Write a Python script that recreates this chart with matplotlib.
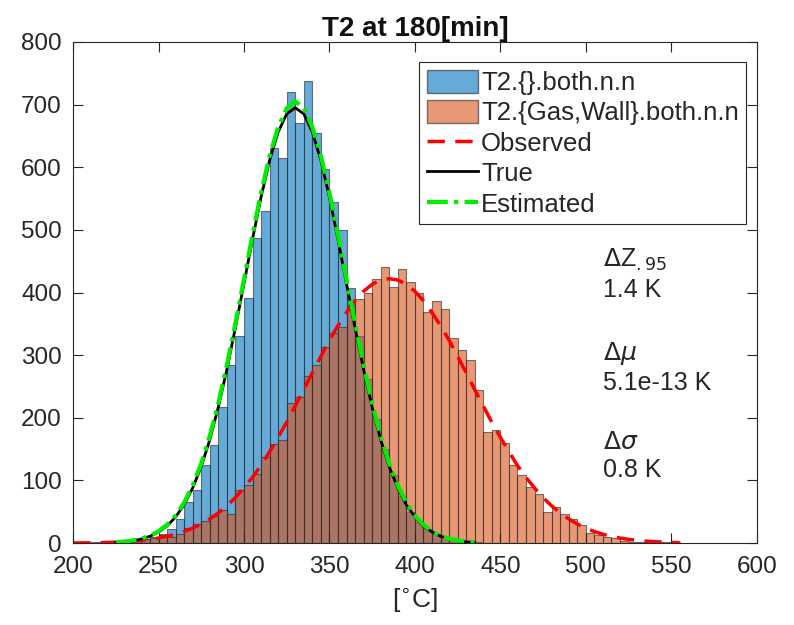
import matplotlib
matplotlib.use("Agg")
import matplotlib.pyplot as plt
import numpy as np
from matplotlib.patches import Patch
from matplotlib.lines import Line2D

plt.rcParams['font.family'] = ['Liberation Sans', 'DejaVu Sans']
plt.rcParams['mathtext.fontset'] = 'dejavusans'

# histogram counts, bin width 5
bin_w = 5
blue_start = 225
blue_counts = [1, 2, 4, 6, 10, 15, 22, 39, 66, 85, 125, 157, 218, 284, 330,
               391, 487, 530, 631, 614, 720, 670, 737, 655, 597, 545, 500, 407,
               330, 262, 198, 150, 108, 76, 50, 34, 22, 14, 8, 5, 3, 1, 1]
orange_start = 210
orange_counts = [1, 2, 1, 2, 3, 4, 6, 8, 13, 10, 14, 24, 31, 36, 44, 53, 47, 84,
                 92, 111, 138, 159, 164, 223, 234, 266, 284, 313, 335, 345, 380,
                 389, 399, 421, 441, 409, 437, 416, 399, 369, 387, 373, 327, 308,
                 292, 244, 178, 181, 160, 124, 109, 90, 78, 50, 58, 47, 39, 29,
                 16, 13, 10, 8, 4, 2, 1, 1, 1, 1, 1]

# fitted curves
true_x = list(range(225, 440, 5))
true_y = [1.2, 2.2, 3.9, 6.6, 10.9, 17.6, 27.4, 41.6, 61.4, 87.9, 122, 165, 217,
          277, 344, 414, 485, 552, 611, 656, 685, 695, 685, 656, 611, 552, 485,
          414, 344, 277, 217, 165, 122, 88, 61, 42, 27, 18, 11, 7, 4, 2, 1]
est_y = [1.5, 2.5, 4.3, 7.2, 11.8, 18.9, 29.3, 44, 64.6, 92, 127, 171, 223, 284,
         351, 421, 492, 559, 618, 664, 694, 705, 695, 664, 618, 559, 492, 421,
         351, 284, 223, 171, 127, 92, 64.6, 44, 29.3, 18.9, 11.8, 7.2, 4.3, 2.5, 1.5]
obs_x = list(range(200, 560, 5))
obs_y = [0.25, 0.37, 0.55, 0.8, 1.15, 1.6, 2.3, 3.2, 4.4, 6.0, 8.1, 10.8, 14.2,
         18.5, 23.9, 30.6, 38.6, 48.2, 59.5, 72.7, 88, 105, 124, 146, 169, 193,
         219, 245, 272, 298, 324, 347, 368, 387, 402, 413, 420, 422, 420, 413,
         402, 387, 368, 347, 324, 298, 272, 245, 219, 193, 169, 146, 124, 105,
         88, 72.7, 59.5, 48.2, 38.6, 30.6, 23.9, 18.5, 14.2, 10.8, 8.1, 6.0, 4.4,
         3.2, 2.3, 1.6, 1.15, 0.8]

labels = ['T2.{}.both.n.n', 'T2.{Gas,Wall}.both.n.n', 'Observed', 'True', 'Estimated']
notes = [(r'$\Delta$Z$_{\mathrm{.95}}$', 452), ('1.4 K', 404),
         (r'$\Delta\mu$', 303), ('5.1e-13 K', 256),
         (r'$\Delta\sigma$', 161), ('0.8 K', 116)]

blue_c = (0.0, 0.447, 0.741)
orange_c = (0.85, 0.325, 0.098)
edge_c = (0.15, 0.15, 0.15)
txt_c = '#262626'

fig = plt.figure(figsize=(7.94, 6.25), dpi=100)
ax = fig.add_axes([0.092, 0.131, 0.861, 0.802])

bx = blue_start + bin_w * np.arange(len(blue_counts))
ox = orange_start + bin_w * np.arange(len(orange_counts))
ax.bar(bx, blue_counts, width=bin_w, align='edge', color=blue_c, alpha=0.6,
       edgecolor=edge_c, linewidth=0.8)
ax.bar(ox, orange_counts, width=bin_w, align='edge', color=orange_c, alpha=0.6,
       edgecolor=edge_c, linewidth=0.8)

ax.plot(obs_x, obs_y, color='red', linestyle=(0, (5, 3)), linewidth=2.5)
ax.plot(true_x, true_y, color='black', linewidth=2)
ax.plot(true_x, est_y, color='#00ee00', linestyle=(0, (5, 1.5, 1, 1.5)), linewidth=3)

for txt, yv in notes:
    ax.text(510, yv, txt, fontsize=18, va='center', ha='left', color=txt_c)

ax.set_xlim(200, 600)
ax.set_ylim(0, 800)
ax.set_xticks(np.arange(200, 601, 50))
ax.set_yticks(np.arange(0, 801, 100))
ax.tick_params(direction='in', top=True, right=True, length=7, labelsize=17.5,
               colors=txt_c)
ax.tick_params(axis='x', pad=9)
ax.tick_params(axis='y', pad=8)
for s in ax.spines.values():
    s.set_color(txt_c)
    s.set_linewidth(0.8)

ax.set_title('T2 at 180[min]', fontsize=20, fontweight='bold', pad=4, color='#111111')
ax.set_xlabel(r'[$^{\circ}$C]', fontsize=19, color=txt_c, labelpad=6)

handles = [Patch(facecolor=blue_c, alpha=0.6, edgecolor=edge_c),
           Patch(facecolor=orange_c, alpha=0.6, edgecolor=edge_c),
           Line2D([], [], color='red', linestyle=(0, (5, 3)), linewidth=2.5),
           Line2D([], [], color='black', linewidth=2),
           Line2D([], [], color='#00ee00', linestyle=(0, (5, 1.5, 1, 1.5)), linewidth=3)]
leg = ax.legend(handles, labels, loc='upper right', bbox_to_anchor=(0.985, 0.96),
                fontsize=18.5, fancybox=False, framealpha=1, edgecolor=txt_c,
                handlelength=2.0, handleheight=1.0, handletextpad=0.1,
                borderpad=0.3, labelspacing=0.2, borderaxespad=0)
leg.get_frame().set_linewidth(0.8)
for t in leg.get_texts():
    t.set_color(txt_c)

fig.savefig('out.png', dpi=100)
